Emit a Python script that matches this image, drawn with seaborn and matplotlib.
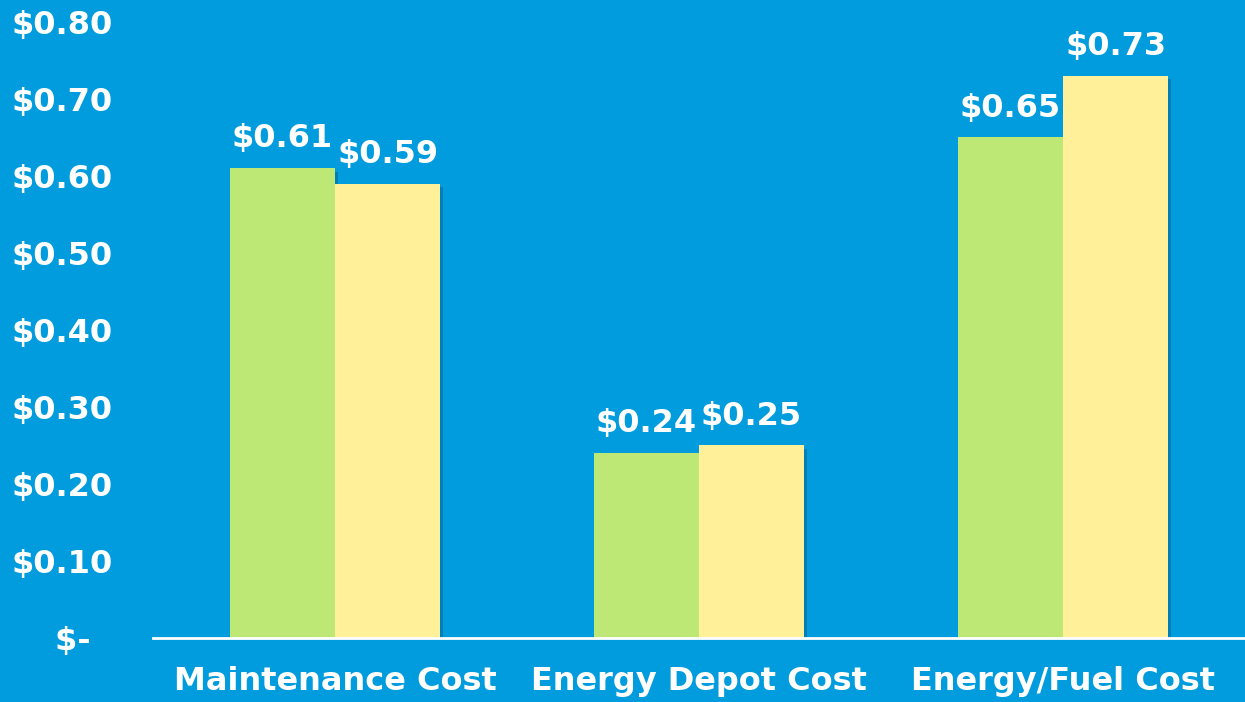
import matplotlib
matplotlib.use("Agg")
import matplotlib.pyplot as plt
import matplotlib.patheffects as pe
import seaborn as sns
import pandas as pd

categories = ["Maintenance Cost", "Energy Depot Cost", "Energy/Fuel Cost"]
series_names = ["Series 1", "Series 2"]
series1 = [0.61, 0.24, 0.65]
series2 = [0.59, 0.25, 0.73]
ytick_values = [0.0, 0.1, 0.2, 0.3, 0.4, 0.5, 0.6, 0.7, 0.8]
ytick_labels = ["$-  ", "$0.10", "$0.20", "$0.30", "$0.40", "$0.50", "$0.60", "$0.70", "$0.80"]

bg = "#009CDE"
colors = ["#BEE876", "#FFF099"]

df = pd.DataFrame({
    "category": categories * 2,
    "series": [series_names[0]] * 3 + [series_names[1]] * 3,
    "value": series1 + series2,
})

sns.set_theme(style="white")
plt.rcParams["font.family"] = ["DejaVu Sans"]

fig = plt.figure(figsize=(12.45, 7.02), dpi=100, facecolor=bg)
ax = fig.add_axes([0.1229, 0.0912, 0.8771, 0.8775])
ax.set_facecolor(bg)

sns.barplot(data=df, x="category", y="value", hue="series", palette=colors,
            width=0.577, ax=ax, legend=False, errorbar=None, saturation=1,
            linewidth=0)

for p in ax.patches:
    p.set_path_effects([pe.SimplePatchShadow(offset=(2.5, -2.5), shadow_rgbFace="#004a70", alpha=0.35),
                        pe.Normal()])

for cont in ax.containers:
    ax.bar_label(cont, labels=[f"${v:.2f}" for v in cont.datavalues], padding=10,
                 color="white", fontsize=23, fontweight="bold")

ax.set_xlim(-0.5, 2.5)
ax.set_ylim(0, 0.8)
ax.set_yticks(ytick_values)
ax.set_yticklabels(ytick_labels)
ax.tick_params(axis="y", length=0, pad=29, labelsize=23, labelcolor="white")
ax.tick_params(axis="x", length=0, pad=20, labelsize=23, labelcolor="white")
for lab in ax.get_xticklabels() + ax.get_yticklabels():
    lab.set_fontweight("bold")
ax.set_xlabel("")
ax.set_ylabel("")
for s in ["left", "right", "top"]:
    ax.spines[s].set_visible(False)
ax.spines["bottom"].set_color("white")
ax.spines["bottom"].set_linewidth(2)
ax.spines["bottom"].set_zorder(5)
ax.grid(False)

fig.savefig("out.png", dpi=100, facecolor=bg)
